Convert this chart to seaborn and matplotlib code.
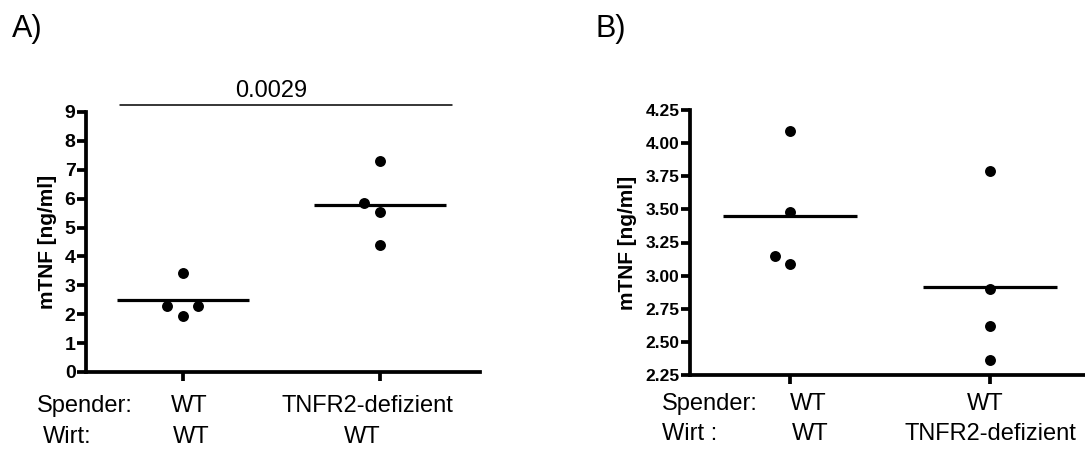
import numpy as np
import pandas as pd
import seaborn as sns
from matplotlib import pyplot as plt

# Daten
groups = ["WT", "TNFR2-defizient"]
a_wt = [3.43, 2.30, 2.30, 1.95]
a_ko = [7.30, 5.84, 5.54, 4.39]
b_wt = [4.09, 3.48, 3.15, 3.09]
b_ko = [3.79, 2.90, 2.62, 2.36]
a_yticks = list(range(0, 10))
b_yticks = [2.25, 2.50, 2.75, 3.00, 3.25, 3.50, 3.75, 4.00, 4.25]
p_text = "0.0029"

W, H = 1085, 454


def px(x, y):
    # Pixel -> Figurkoordinaten
    return x / W, 1 - y / H


def spread(values_by_group, ax, step_px=15.5, min_px=11):
    # ueberlappende Punkte nebeneinander setzen (wie Prism)
    px_x = ax.bbox.width / np.diff(ax.get_xlim())[0]
    px_y = ax.bbox.height / np.diff(ax.get_ylim())[0]
    rows = []
    for gi, vals in enumerate(values_by_group):
        placed = []
        for v in sorted(vals):
            for slot in [0, -1, 1, -2, 2]:
                if all(abs(v - pv) * px_y >= min_px for pv, ps in placed if ps == slot):
                    break
            placed.append((v, slot))
            rows.append({"group": groups[gi], "value": v,
                         "xpos": gi + slot * step_px / px_x})
    return pd.DataFrame(rows)


sns.set_style("ticks")
plt.rcParams['font.family'] = ['Liberation Sans', 'DejaVu Sans']
for k in ["text.color", "axes.labelcolor", "xtick.color", "ytick.color", "axes.edgecolor"]:
    plt.rcParams[k] = "black"

fig = plt.figure(figsize=(W / 100, H / 100), dpi=100)
ax_a = fig.add_axes([86 / W, 1 - 372 / H, (480 - 86) / W, (372 - 112) / H])
ax_b = fig.add_axes([690 / W, 1 - 375 / H, (1085 - 690) / W, (375 - 110) / H])

panels = [
    (ax_a, [a_wt, a_ko], (0, 9), a_yticks, "%d", 14, -0.098),
    (ax_b, [b_wt, b_ko], (2.25, 4.25), b_yticks, "%.2f", 12.5, -0.157),
]
xlims = [(-0.492, 1.508), (-0.5, 1.475)]

for (ax, data, ylim, yticks, fmt, fs, labx), xl in zip(panels, xlims):
    ax.set_xlim(*xl)
    ax.set_ylim(*ylim)
    df = spread(data, ax)
    sns.scatterplot(data=df, x="xpos", y="value", ax=ax, color="black",
                    s=62, linewidth=0, legend=False, clip_on=False, zorder=3)
    means = df.groupby("group", sort=False)["value"].mean()
    for gi, g in enumerate(groups):
        ax.hlines(means[g], gi - 0.335, gi + 0.335, color="black", lw=2.3, zorder=2)
    sns.despine(ax=ax)
    for s in ["left", "bottom"]:
        ax.spines[s].set_linewidth(2.7)
    ax.set_yticks(yticks)
    ax.set_yticklabels([fmt % t for t in yticks], fontsize=fs, fontweight="bold")
    ax.set_xticks([0, 1])
    ax.set_xticklabels([])
    ax.tick_params(axis="both", width=2.7, length=6.5, pad=1, color="black")
    ax.set_xlabel("")
    ax.set_ylabel("mTNF [ng/ml]", fontsize=15, fontweight="bold", va="center")
    ax.yaxis.set_label_coords(labx, 0.5)

# Signifikanzbalken Panel A
ax_a.plot([-0.32, 1.364], [9.24, 9.24], color="black", lw=1.1, clip_on=False)
fig.text(*px(271.5, 97), p_text, fontsize=17, ha="center", va="baseline")

# Panelbuchstaben
fig.text(*px(12, 37), "A)", fontsize=22, va="baseline")
fig.text(*px(596, 37), "B)", fontsize=22, va="baseline")

# Gruppenbeschriftung unten
fs_lab = 17
fig.text(*px(37, 412), "Spender:", fontsize=fs_lab, va="baseline")
fig.text(*px(43, 443), "Wirt:", fontsize=fs_lab, va="baseline")
fig.text(*px(189, 412), "WT", fontsize=fs_lab, ha="center", va="baseline")
fig.text(*px(191, 443), "WT", fontsize=fs_lab, ha="center", va="baseline")
fig.text(*px(367, 412), "TNFR2-defizient", fontsize=fs_lab, ha="center", va="baseline")
fig.text(*px(362, 443), "WT", fontsize=fs_lab, ha="center", va="baseline")

fig.text(*px(662, 410), "Spender:", fontsize=fs_lab, va="baseline")
fig.text(*px(662, 440), "Wirt :", fontsize=fs_lab, va="baseline")
fig.text(*px(808, 410), "WT", fontsize=fs_lab, ha="center", va="baseline")
fig.text(*px(810, 440), "WT", fontsize=fs_lab, ha="center", va="baseline")
fig.text(*px(985, 410), "WT", fontsize=fs_lab, ha="center", va="baseline")
fig.text(*px(990, 440), "TNFR2-defizient", fontsize=fs_lab, ha="center", va="baseline")

fig.savefig("out.png", dpi=100)
